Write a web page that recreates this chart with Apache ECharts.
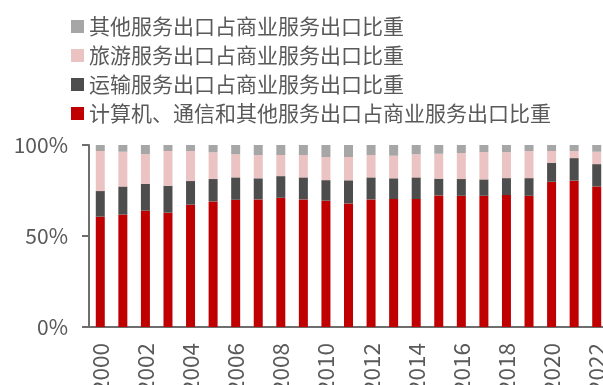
<!DOCTYPE html>
<html>
<head>
<meta charset="utf-8">
<script src="https://cdn.jsdelivr.net/npm/echarts@6/dist/echarts.min.js"></script>
<style>
  html, body { margin: 0; padding: 0; background: #fff; }
  #chart { width: 603px; height: 385px; }
</style>
</head>
<body>
<div id="chart"></div>
<script>
// Years on the category axis
const years = ['2000','2001','2002','2003','2004','2005','2006','2007','2008','2009','2010',
  '2011','2012','2013','2014','2015','2016','2017','2018','2019','2020','2021','2022'];

// Shares of commercial services exports (%)
const ictShare = [60.6,61.8,63.9,62.8,67.2,69.0,69.9,70.1,71.0,70.1,69.4,
  67.9,70.1,70.3,70.3,72.3,72.1,72.1,72.5,72.1,79.8,80.4,77.2];
const transportShare = [14.1,15.4,14.8,14.8,13.0,12.3,12.3,11.6,11.9,12.1,11.3,
  12.7,12.1,11.4,11.9,9.2,9.2,9.0,9.3,9.7,10.3,12.4,12.3];
const travelShare = [22.0,19.1,16.3,19.1,16.5,14.7,12.7,12.8,11.6,12.3,12.7,
  12.8,12.3,12.4,12.7,13.7,14.3,15.0,14.3,14.9,6.6,3.9,6.8];
const otherShare = [3.3,3.7,5.0,3.3,3.3,4.0,5.1,5.5,5.5,5.5,6.6,
  6.6,5.5,5.9,5.1,4.8,4.4,3.9,3.9,3.3,3.3,3.3,3.7];

const yTicks = [0, 50, 100];

const names = {
  ict: '计算机、通信和其他服务出口占商业服务出口比重',
  transport: '运输服务出口占商业服务出口比重',
  travel: '旅游服务出口占商业服务出口比重',
  other: '其他服务出口占商业服务出口比重'
};

const font = '"Noto Sans CJK SC", "Noto Sans", sans-serif';
const textColor = '#595959';
const axisColor = '#6e6e6e';

function barSeries(name, data, color) {
  return {
    name: name,
    type: 'bar',
    stack: 'share',
    barWidth: 9,
    data: data,
    itemStyle: { color: color },
    emphasis: { disabled: true }
  };
}

const chart = echarts.init(document.getElementById('chart'), null, { renderer: 'canvas' });
chart.setOption({
  animation: false,
  backgroundColor: '#ffffff',
  legend: {
    orient: 'vertical',
    left: 71,
    top: 16,
    padding: 0,
    itemWidth: 13,
    itemHeight: 13,
    itemGap: 8,
    icon: 'rect',
    data: [names.other, names.travel, names.transport, names.ict],
    textStyle: { fontFamily: font, fontSize: 21, color: textColor, lineHeight: 21 }
  },
  // plot area runs slightly past the right edge; year labels run past the bottom
  grid: { left: 89, top: 145, bottom: 58, width: 519, containLabel: false, outerBoundsMode: 'none' },
  xAxis: {
    type: 'category',
    data: years,
    axisLine: { lineStyle: { color: axisColor, width: 2 } },
    axisTick: { interval: 1, length: 7, lineStyle: { color: axisColor, width: 2 } },
    axisLabel: {
      interval: 1,
      rotate: 90,
      margin: 16,
      fontFamily: font,
      fontSize: 22.5,
      color: textColor
    }
  },
  yAxis: {
    type: 'value',
    min: yTicks[0],
    max: yTicks[yTicks.length - 1],
    interval: 50,
    splitLine: { show: false },
    axisLine: { show: true, lineStyle: { color: axisColor, width: 2 } },
    axisTick: { show: true, length: 7, lineStyle: { color: axisColor, width: 2 } },
    axisLabel: {
      margin: 21,
      fontFamily: font,
      fontSize: 21,
      color: textColor,
      formatter: v => v + '%'
    }
  },
  series: [
    barSeries(names.ict, ictShare, '#C00000'),
    barSeries(names.transport, transportShare, '#4D4D4D'),
    barSeries(names.travel, travelShare, '#EBC3C3'),
    barSeries(names.other, otherShare, '#A6A6A6')
  ]
});
</script>
</body>
</html>
